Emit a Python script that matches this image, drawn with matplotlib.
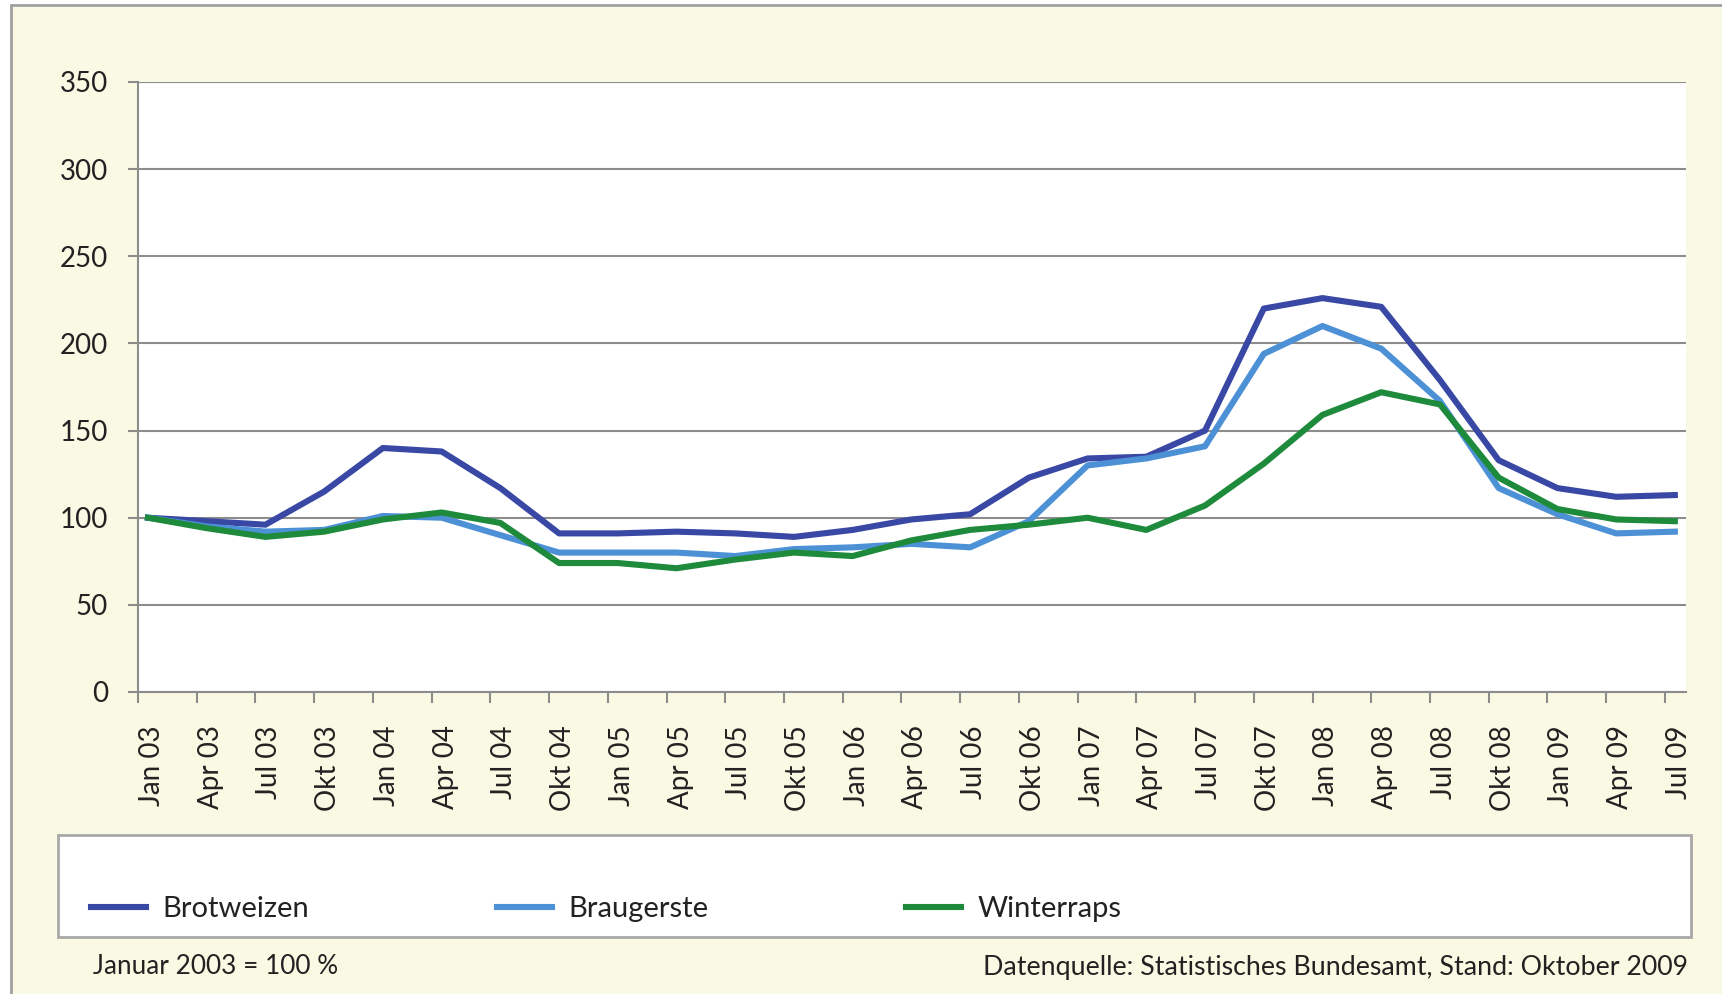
import matplotlib
matplotlib.use("Agg")
import matplotlib.pyplot as plt
from matplotlib.patches import Rectangle
from matplotlib.transforms import ScaledTranslation
import numpy as np

plt.rcParams['font.family'] = ['Lato', 'DejaVu Sans']

categories = ["Jan 03", "Apr 03", "Jul 03", "Okt 03", "Jan 04", "Apr 04", "Jul 04", "Okt 04",
              "Jan 05", "Apr 05", "Jul 05", "Okt 05", "Jan 06", "Apr 06", "Jul 06", "Okt 06",
              "Jan 07", "Apr 07", "Jul 07", "Okt 07", "Jan 08", "Apr 08", "Jul 08", "Okt 08",
              "Jan 09", "Apr 09", "Jul 09"]
brotweizen = [100, 98, 96, 115, 140, 138, 117, 91, 91, 92, 91, 89, 93, 99, 102, 123, 134, 135,
              150, 220, 226, 221, 179, 133, 117, 112, 113]
braugerste = [100, 95, 92, 93, 101, 100, 90, 80, 80, 80, 78, 82, 83, 85, 83, 98, 130, 134,
              141, 194, 210, 197, 167, 117, 102, 91, 92]
winterraps = [100, 94, 89, 92, 99, 103, 97, 74, 74, 71, 76, 80, 78, 87, 93, 96, 100, 93,
              107, 131, 159, 172, 165, 123, 105, 99, 98]
y_ticks = [0, 50, 100, 150, 200, 250, 300, 350]

c_bw = '#3948A4'
c_bg = '#4C90D6'
c_wr = '#1E8A3C'
cream = '#FAF9E3'
grid_c = '#8C8C8C'
txt_c = '#222222'

fig = plt.figure(figsize=(17.22, 9.94), dpi=100)
fig.patch.set_facecolor('white')
W, H = 1722, 994

def fx(px):
    return px / W

def fy(py):
    return 1 - py / H

# outer cream frame
fig.patches.append(Rectangle((fx(11), -0.01), 1.02, fy(5) + 0.01, transform=fig.transFigure,
                             facecolor=cream, edgecolor='#A0A0A0', linewidth=2, zorder=-2))

ax = fig.add_axes([fx(138), fy(692), fx(1686) - fx(138), fy(82) - fy(692)])
ax.set_zorder(1)
ax.set_facecolor('white')
x = np.arange(len(categories))
ax.plot(x, brotweizen, color=c_bw, lw=4.4, zorder=3, label='Brotweizen')
ax.plot(x, braugerste, color=c_bg, lw=4.4, zorder=3, label='Braugerste')
ax.plot(x, winterraps, color=c_wr, lw=4.4, zorder=3, label='Winterraps')

off = 0.17
ax.set_xlim(-off, len(categories) - 1 + 0.19)
ax.set_ylim(0, 350)
ax.set_yticks(y_ticks)
ax.set_yticklabels([str(v) for v in y_ticks], fontsize=20, color=txt_c)
ax.set_xticks(x)
ax.set_xticklabels(categories, rotation=90, fontsize=20, color=txt_c, va='top', ha='center')
ax.set_xticks(x - off, minor=True)
ax.tick_params(axis='x', which='major', length=0, pad=24)
ax.tick_params(axis='x', which='minor', length=8, width=1.5, color=grid_c, direction='out')
ax.tick_params(axis='y', length=7.5, width=1.5, color=grid_c, pad=14)
ax.grid(axis='y', color=grid_c, lw=1.5, zorder=1)
ax.set_axisbelow(True)
for s in ['top', 'right']:
    ax.spines[s].set_visible(False)
for s in ['left', 'bottom']:
    ax.spines[s].set_color(grid_c)
    ax.spines[s].set_linewidth(1.5)

shift = ScaledTranslation(0.04, 0, fig.dpi_scale_trans)
for lbl in ax.get_xticklabels():
    lbl.set_transform(lbl.get_transform() + shift)

# legend box
fig.patches.append(Rectangle((fx(58), fy(937)), fx(1691) - fx(58), fy(835) - fy(937),
                             transform=fig.transFigure, facecolor='white',
                             edgecolor='#A8A8A8', linewidth=2, zorder=-1))
handles, labels = ax.get_legend_handles_labels()
xs = [91, 497, 906]
for h, lab, xp in zip(handles, labels, xs):
    lg = fig.legend([h], [lab], loc='center left', bbox_to_anchor=(fx(xp), fy(909)),
                    frameon=False, fontsize=21, handlelength=1.9, handletextpad=0.55,
                    borderpad=0, borderaxespad=0)
    for t in lg.get_texts():
        t.set_color(txt_c)

fig.text(fx(93), fy(966), "Januar 2003 = 100 %", fontsize=18.8, color=txt_c,
         ha='left', va='center')
fig.text(fx(1688), fy(968), "Datenquelle: Statistisches Bundesamt, Stand: Oktober 2009",
         fontsize=19.3, color=txt_c, ha='right', va='center')

fig.savefig('out.png', dpi=100, facecolor=fig.get_facecolor())
